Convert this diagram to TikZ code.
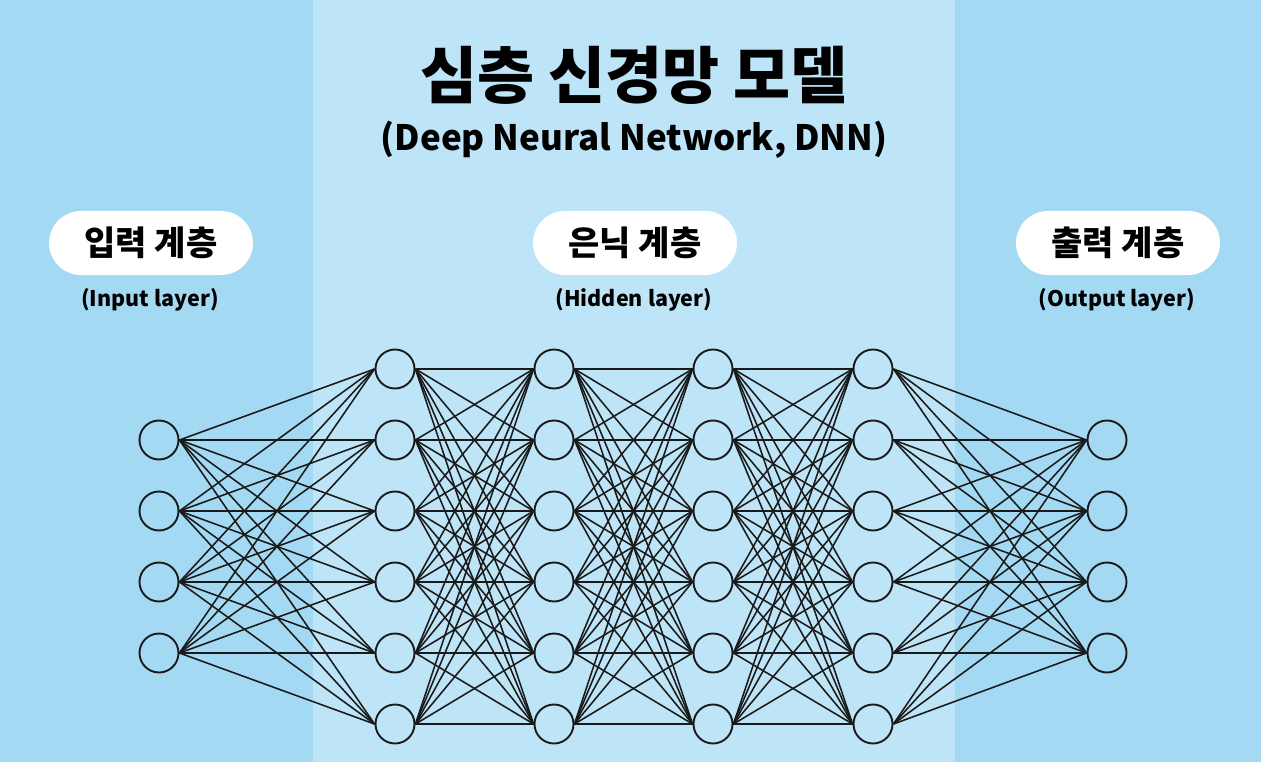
\documentclass[tikz,border=0pt]{standalone}
\usepackage{fontspec}
\setmainfont{Noto Sans CJK KR}
\definecolor{outerbg}{HTML}{A3D9F2}
\definecolor{midbg}{HTML}{BEE4F7}
\definecolor{linec}{HTML}{1A1A1A}
\begin{document}
\begin{tikzpicture}[x=1pt,y=-1pt,
  neuron/.style={circle, draw=linec, line width=1.9pt, minimum size=39pt, inner sep=0pt},
  edge/.style={draw=linec, line width=1.55pt},
  pill/.style={fill=white, rounded corners=32pt, minimum width=204pt, minimum height=64pt, inner sep=0pt,
    font=\bfseries\fontsize{34}{38}\selectfont},
  sublabel/.style={font=\bfseries\fontsize{21.5}{26}\selectfont, text=black},
  title/.style={font=\bfseries\fontsize{62}{70}\selectfont},
  subtitle/.style={font=\bfseries\fontsize{35}{42}\selectfont}]
\useasboundingbox (0,0) rectangle (1261,762);
\fill[outerbg] (0,0) rectangle (1261,762);
\fill[midbg] (313,0) rectangle (955,762);

\node[title] (t) at (634,75) {심층 신경망 모델};
\node[subtitle] (st) at (634,140) {(Deep Neural Network, DNN)};

\node[pill] (pin) at (151,243) {입력 계층};
\node[pill] (phid) at (635,243) {은닉 계층};
\node[pill] (pout) at (1118,243) {출력 계층};
\node[sublabel] (sin) at (150,300) {(Input layer)};
\node[sublabel] (shid) at (634,300) {(Hidden layer)};
\node[sublabel] (sout) at (1117,300) {(Output layer)};

\foreach \j/\y in {1/440,2/511,3/582,4/653} {
  \node[neuron] (i\j) at (159,\y) {};
  \node[neuron] (o\j) at (1107,\y) {};
}
\foreach \l/\x in {1/395,2/554,3/713,4/873} {
  \foreach \j in {1,...,6} {
    \node[neuron] (h\l-\j) at (\x,{369+(\j-1)*71}) {};
  }
}
\foreach \a in {1,...,4} \foreach \b in {1,...,6} {
  \draw[edge] (i\a.east) -- (h1-\b.west);
  \draw[edge] (h4-\b.east) -- (o\a.west);
}
\foreach \l/\m in {1/2,2/3,3/4} \foreach \a in {1,...,6} \foreach \b in {1,...,6} {
  \draw[edge] (h\l-\a.east) -- (h\m-\b.west);
}
\end{tikzpicture}
\end{document}
